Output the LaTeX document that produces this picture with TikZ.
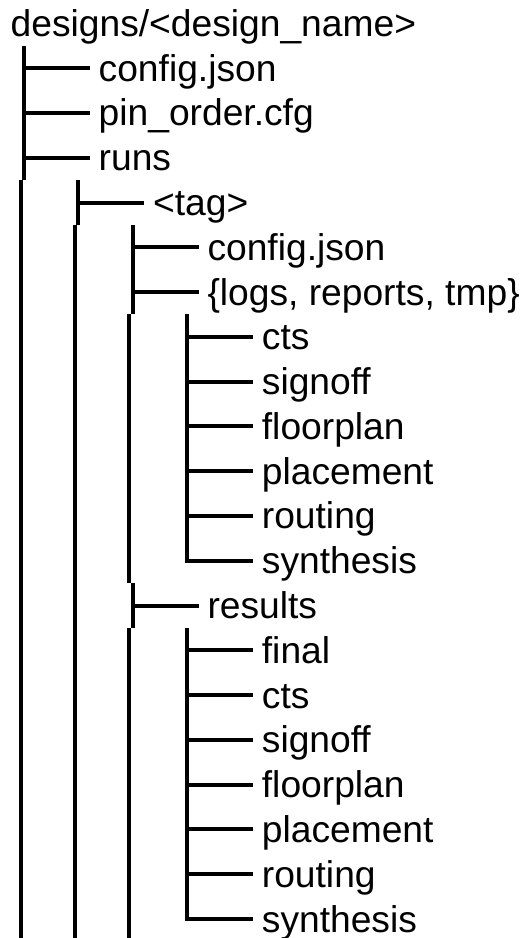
\documentclass[tikz,border=0pt]{standalone}
\usepackage{fontspec}
\setmainfont{Liberation Sans}
\begin{document}
\begin{tikzpicture}[x=1pt,y=-1pt,
  lbl/.style={anchor=base west, inner sep=0pt, font=\fontsize{37.2}{44.8}\selectfont},
  tree/.style={line width=3.4pt, line cap=butt, line join=miter, black}]
\useasboundingbox (0,0) rectangle (525,938);
\node[lbl] (n0) at (10.5,36.4) {designs/<design\_name>};
\foreach \i/\l/\t in {
  1/1/config.json, 2/1/pin\_order.cfg, 3/1/runs,
  4/2/<tag>,
  5/3/config.json, 6/3/{\{logs, reports, tmp\}},
  7/4/cts, 8/4/signoff, 9/4/floorplan, 10/4/placement, 11/4/routing, 12/4/synthesis,
  13/3/results,
  14/4/final, 15/4/cts, 16/4/signoff, 17/4/floorplan, 18/4/placement, 19/4/routing, 20/4/synthesis} {
  \pgfmathsetmacro\cyr{23.39+44.78*\i}
  \pgfmathsetmacro\cy{round(\cyr)}
  \pgfmathsetmacro\ax{round(24+54.4*(\l-1))}
  \pgfmathsetmacro\tx{98.5+54.4*(\l-1)}
  \coordinate (b\i) at (\ax,\cy);
  \coordinate (e\i) at (\ax+66,\cy);
  \node[lbl] (n\i) at (\tx,\cyr+13) {\t};
  \draw[tree] (b\i) -- (e\i);
}
% level 1
\coordinate (t1a) at (24,46);
\coordinate (t1b) at (24,180);
\coordinate (s1a) at (21,180);
\coordinate (s1b) at (21,938);
\draw[tree] (t1a) -- (t1b);
\draw[tree] (s1a) -- (s1b);
% level 2
\coordinate (t2a) at (78,180);
\coordinate (t2b) at (78,225);
\coordinate (s2a) at (75,225);
\coordinate (s2b) at (75,938);
\draw[tree] (t2a) -- (t2b);
\draw[tree] (s2a) -- (s2b);
% level 3
\coordinate (t3a) at (133,225);
\coordinate (t3b) at (133,314);
\coordinate (s3a) at (129,314);
\coordinate (s3b) at (129,583);
\coordinate (t3c) at (133,583);
\coordinate (t3d) at (133,628);
\coordinate (s3c) at (129,628);
\coordinate (s3d) at (129,938);
\draw[tree] (t3a) -- (t3b);
\draw[tree] (s3a) -- (s3b);
\draw[tree] (t3c) -- (t3d);
\draw[tree] (s3c) -- (s3d);
% level 4
\coordinate (t4a) at (187,314);
\coordinate (t4b) at (187,628);
\draw[tree] (t4a) -- (b12) -- (e12);
\draw[tree] (t4b) -- (b20) -- (e20);
\end{tikzpicture}
\end{document}
